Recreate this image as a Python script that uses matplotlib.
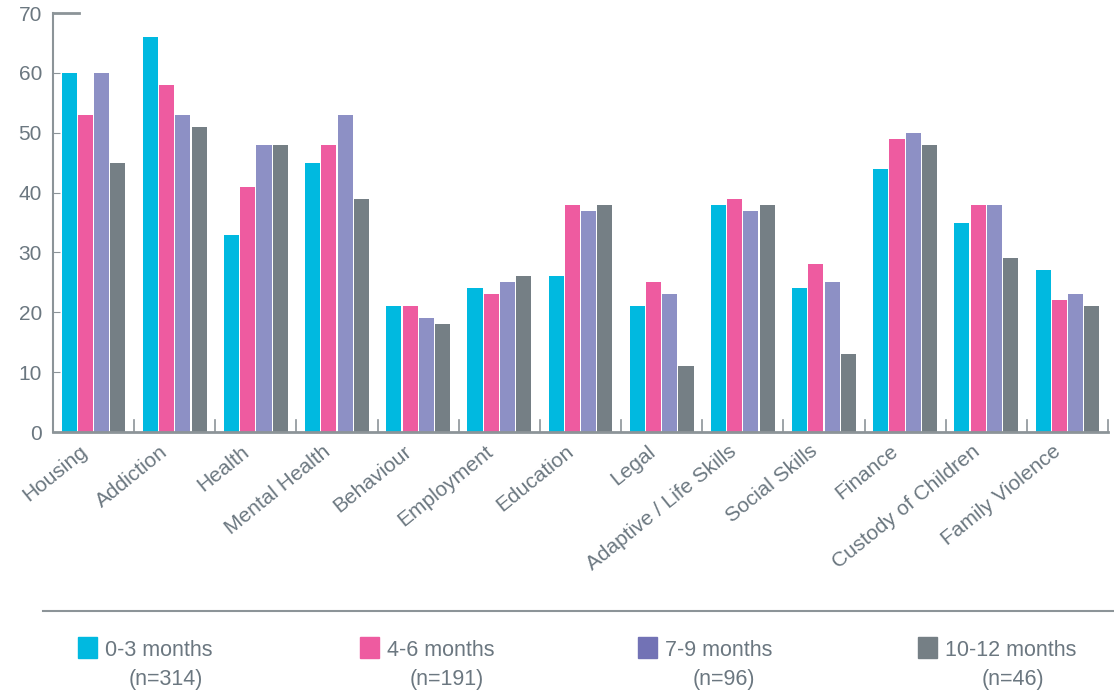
import matplotlib.pyplot as plt
import matplotlib.patches as mpatches
import matplotlib.transforms as mtransforms
import numpy as np

plt.rcParams['font.family'] = ['Liberation Sans', 'DejaVu Sans']

categories = ["Housing", "Addiction", "Health", "Mental Health", "Behaviour", "Employment",
              "Education", "Legal", "Adaptive / Life Skills", "Social Skills", "Finance",
              "Custody of Children", "Family Violence"]
m0_3 = [60, 66, 33, 45, 21, 24, 26, 21, 38, 24, 44, 35, 27]
m4_6 = [53, 58, 41, 48, 21, 23, 38, 25, 39, 28, 49, 38, 22]
m7_9 = [60, 53, 48, 53, 19, 25, 37, 23, 37, 25, 50, 38, 23]
m10_12 = [45, 51, 48, 39, 18, 26, 38, 11, 38, 13, 48, 29, 21]
series_names = ["0-3 months", "4-6 months", "7-9 months", "10-12 months"]
series_n = ["(n=314)", "(n=191)", "(n=96)", "(n=46)"]

colors = ["#00b9e0", "#ee5ba0", "#8d90c5", "#757f85"]
legend_colors = ["#00b9e0", "#ee5ba0", "#7272b5", "#757f85"]
txt = "#6b7780"
axis_col = "#8c9498"

fig = plt.figure(figsize=(11.14, 6.91), dpi=100)
ax = fig.add_axes([0.0476, 0.3748, 0.947, 0.6062])

x = np.arange(len(categories))
w = 0.2
for i, vals in enumerate([m0_3, m4_6, m7_9, m10_12]):
    ax.bar(x - 0.3 + i * w, vals, width=w * 0.93, color=colors[i], zorder=2)

ax.set_xlim(-0.5, len(categories) - 0.5)
ax.set_ylim(0, 70)
ax.set_yticks(range(0, 71, 10))
ax.tick_params(axis='y', direction='in', length=5, color=axis_col, labelcolor=txt,
               labelsize=15, pad=8)
ax.set_xticks(x)
ax.set_xticklabels(categories, rotation=39, ha='right', rotation_mode='anchor',
                   fontsize=15, color=txt)
ax.tick_params(axis='x', length=0, pad=7)
shift = mtransforms.ScaledTranslation(-15 / 100, 0, fig.dpi_scale_trans)
for lab in ax.get_xticklabels():
    lab.set_transform(lab.get_transform() + shift)
# group separator ticks
for b in np.arange(0.5, len(categories), 1.0):
    ax.plot([b, b], [0, 2], color=axis_col, lw=1.2, clip_on=False, zorder=3)
ax.plot([-0.5, -0.18], [70, 70], color=axis_col, lw=2, clip_on=False)

for s in ["top", "right"]:
    ax.spines[s].set_visible(False)
ax.spines["left"].set_color(axis_col)
ax.spines["bottom"].set_color(axis_col)
ax.spines["left"].set_linewidth(1.5)
ax.spines["bottom"].set_linewidth(2)

# legend
fig.add_artist(plt.Line2D([43 / 1114, 1.0], [1 - 611 / 691] * 2, color=axis_col, lw=1.5))
hx = [78, 360, 638, 918]
nx = [166, 447, 724, 1013]
for i in range(4):
    fig.add_artist(mpatches.Rectangle((hx[i] / 1114, 1 - 658 / 691), 19 / 1114, 21 / 691,
                                      color=legend_colors[i], transform=fig.transFigure))
    fig.text((hx[i] + 27) / 1114, 1 - 650 / 691, series_names[i], fontsize=15.5, color=txt,
             va='center', ha='left')
    fig.text(nx[i] / 1114, 1 - 679 / 691, series_n[i], fontsize=15.5, color=txt,
             va='center', ha='center')

fig.savefig("out.png", dpi=100)
